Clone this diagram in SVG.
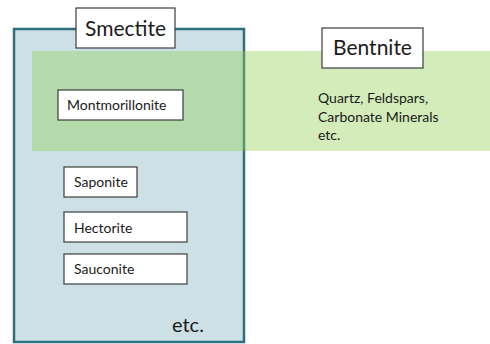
<svg xmlns="http://www.w3.org/2000/svg" width="490" height="344" viewBox="0 0 490 344">
<style>
.box{fill:#ffffff;stroke:#3c3c3c;stroke-width:1.2}
.t{font-family:Lato,"Open Sans","Liberation Sans",sans-serif;fill:#1a1a1a}
.s{font-size:14px}
.b{font-size:21px}
</style>
<rect width="490" height="344" fill="#ffffff"/>
<g id="smectite">
<rect x="14" y="29" width="230" height="313" fill="#cce0e6" stroke="#2f6e7c" stroke-width="2.5"/>
</g>
<g id="bentnite-area">
<rect x="32" y="51" width="458" height="100" fill="#92d050" fill-opacity="0.4"/>
</g>
<g id="smectite-label">
<rect class="box" x="76" y="8" width="99" height="40"/>
<text class="t b" x="125.5" y="36" text-anchor="middle">Smectite</text>
</g>
<g id="bentnite-label">
<rect class="box" x="322" y="28" width="101" height="40"/>
<text class="t b" x="372.5" y="55" text-anchor="middle">Bentnite</text>
</g>
<g id="montmorillonite">
<rect class="box" x="58" y="90" width="125" height="30"/>
<text class="t s" x="67" y="110">Montmorillonite</text>
</g>
<g id="others">
<text class="t s" x="318" y="103">Quartz, Feldspars,</text>
<text class="t s" x="318" y="122">Carbonate Minerals</text>
<text class="t s" x="318" y="140">etc.</text>
</g>
<g id="saponite">
<rect class="box" x="64" y="167" width="73" height="30"/>
<text class="t s" x="74" y="187">Saponite</text>
</g>
<g id="hectorite">
<rect class="box" x="64" y="212" width="123" height="30"/>
<text class="t s" x="74" y="233">Hectorite</text>
</g>
<g id="sauconite">
<rect class="box" x="64" y="254" width="123" height="30"/>
<text class="t s" x="74" y="274">Sauconite</text>
</g>
<g id="etc">
<text class="t" x="172" y="332" font-size="20">etc.</text>
</g>
<g id="connectors"/>
</svg>
